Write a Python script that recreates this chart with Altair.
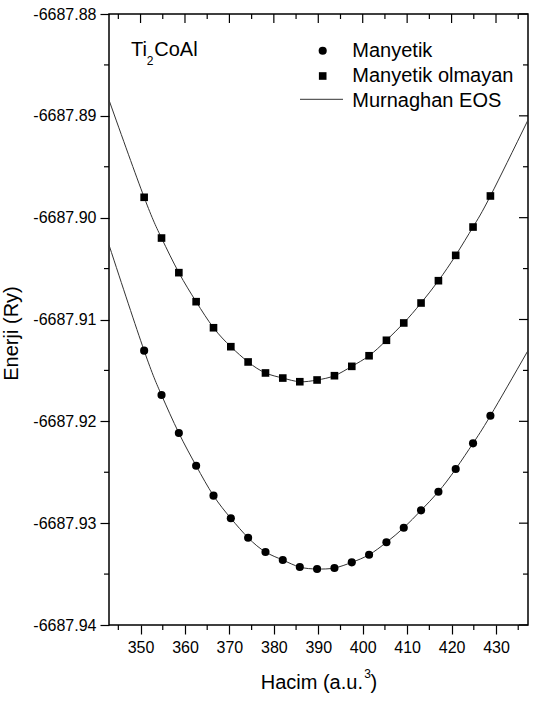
import altair as alt
import pandas as pd

FONT = "Liberation Sans"

# Cell volumes (a.u.^3) of the computed points
volume = [350.81, 354.72, 358.62, 362.51, 366.42, 370.32, 374.21, 378.12, 382.01, 385.84,
          389.73, 393.64, 397.54, 401.43, 405.34, 409.24, 413.13, 417.04, 420.93, 424.83, 428.74]

# Total energies (Ry)
e_magnetic = [-6687.91306, -6687.91742, -6687.92115, -6687.92436, -6687.92730, -6687.92952,
              -6687.93143, -6687.93283, -6687.93362, -6687.93431, -6687.93450, -6687.93440,
              -6687.93385, -6687.93310, -6687.93188, -6687.93045, -6687.92874, -6687.92691,
              -6687.92468, -6687.92216, -6687.91945]
e_nonmagnetic = [-6687.89800, -6687.90200, -6687.90540, -6687.90825, -6687.91081, -6687.91267,
                 -6687.91417, -6687.91525, -6687.91575, -6687.91611, -6687.91594, -6687.91552,
                 -6687.91460, -6687.91356, -6687.91204, -6687.91034, -6687.90838, -6687.90619,
                 -6687.90370, -6687.90092, -6687.89787]

# Murnaghan EOS fit values at the ends of the volume range
fit_edge_volume = [342.9, 437.2]
fit_edge_magnetic = [-6687.90268, -6687.91305]
fit_edge_nonmagnetic = [-6687.88845, -6687.89041]

phases = ["Manyetik", "Manyetik olmayan"]

x_major = [350, 360, 370, 380, 390, 400, 410, 420, 430]
x_minor = [345, 355, 365, 375, 385, 395, 405, 415, 425, 435]
y_major = [-6687.94, -6687.93, -6687.92, -6687.91, -6687.90, -6687.89, -6687.88]
y_minor = [-6687.935, -6687.925, -6687.915, -6687.905, -6687.895, -6687.885]

W, H = 419, 611

points = pd.DataFrame({
    "V": volume * 2,
    "E": e_magnetic + e_nonmagnetic,
    "phase": [phases[0]] * len(volume) + [phases[1]] * len(volume),
})

curve = pd.DataFrame({
    "V": [fit_edge_volume[0]] + volume + [fit_edge_volume[1]]
         + [fit_edge_volume[0]] + volume + [fit_edge_volume[1]],
    "E": [fit_edge_magnetic[0]] + e_magnetic + [fit_edge_magnetic[1]]
         + [fit_edge_nonmagnetic[0]] + e_nonmagnetic + [fit_edge_nonmagnetic[1]],
    "phase": [phases[0]] * (len(volume) + 2) + [phases[1]] * (len(volume) + 2),
})

xs = alt.Scale(domain=[fit_edge_volume[0], fit_edge_volume[1]], nice=False, zero=False)
ys = alt.Scale(domain=[y_major[0], y_major[-1]], nice=False, zero=False)

x_axis = alt.Axis(values=x_major, format="d", tickSize=9, tickWidth=1.2, tickColor="black",
                  labelFont=FONT, labelFontSize=16, labelColor="black", labelPadding=5,
                  domain=False, grid=False, title=None)
y_axis = alt.Axis(values=y_major,
                  labelExpr="replace(format(datum.value, '.2f'), '\u2212', '-')",
                  tickSize=9, tickWidth=1.2, tickColor="black",
                  labelFont=FONT, labelFontSize=16, labelColor="black", labelPadding=4,
                  domain=False, grid=False,
                  title="Enerji (Ry)", titleFont=FONT, titleFontSize=20,
                  titleFontWeight="normal", titleColor="black",
                  titleAngle=270, titleAlign="center", titleBaseline="alphabetic",
                  titleX=-92, titleY=319)

fit_line = alt.Chart(curve).mark_line(
    color="#333333", strokeWidth=1, interpolate="natural", clip=True
).encode(
    x=alt.X("V:Q", scale=xs, axis=x_axis),
    y=alt.Y("E:Q", scale=ys, axis=y_axis),
    detail="phase:N",
)

dots = alt.Chart(points).mark_point(filled=True, color="black", opacity=1).encode(
    x=alt.X("V:Q", scale=xs),
    y=alt.Y("E:Q", scale=ys),
    shape=alt.Shape("phase:N", scale=alt.Scale(domain=phases, range=["circle", "square"]),
                    legend=None),
    size=alt.Size("phase:N", scale=alt.Scale(domain=phases, range=[66, 58]), legend=None),
)

# Extra ticks: minor ticks outside, mirrored ticks inside on top and right
def vrule(values, y0, y1):
    return alt.Chart(pd.DataFrame({"v": values})).mark_rule(
        color="black", strokeWidth=1.2
    ).encode(x=alt.X("v:Q", scale=xs), y=alt.value(y0), y2=alt.value(y1))

def hrule(values, x0, x1):
    return alt.Chart(pd.DataFrame({"v": values})).mark_rule(
        color="black", strokeWidth=1.2
    ).encode(y=alt.Y("v:Q", scale=ys), x=alt.value(x0), x2=alt.value(x1))

ticks = [
    vrule(x_minor, H, H + 5),
    vrule(x_major, 0, 9),
    vrule(x_minor, 0, 5),
    hrule(y_minor, -5, 0),
    hrule(y_major, W, W - 9),
    hrule(y_minor, W, W - 5),
]

one = pd.DataFrame({"k": [0]})

def label(text, x, y, size=20):
    return alt.Chart(one).mark_text(
        font=FONT, fontSize=size, align="left", baseline="alphabetic", color="black"
    ).encode(x=alt.value(x), y=alt.value(y), text=alt.value(text))

texts = [
    # compound name with subscript
    label("Ti", 22, 42),
    label("2", 37.7, 51, 12),
    label("CoAl", 45.3, 42),
    # x-axis title with superscript
    label("Hacim (a.u.", 151.7, 675.3),
    label("3", 255.3, 664.3, 12),
    label(")", 261.5, 675.3),
    # legend entries
    label("Manyetik", 243.3, 43.3),
    label("Manyetik olmayan", 243.3, 68.3),
    label("Murnaghan EOS", 243.3, 92.7),
]

legend_marks = [
    alt.Chart(one).mark_point(shape="circle", filled=True, color="black", opacity=1, size=66)
    .encode(x=alt.value(213.7), y=alt.value(36.7)),
    alt.Chart(one).mark_point(shape="square", filled=True, color="black", opacity=1, size=58)
    .encode(x=alt.value(213.7), y=alt.value(62)),
    alt.Chart(one).mark_rule(color="#333333", strokeWidth=1)
    .encode(x=alt.value(191), x2=alt.value(234), y=alt.value(85.3)),
]

chart = alt.layer(fit_line, dots, *ticks, *texts, *legend_marks).properties(
    width=W, height=H,
    padding={"left": 109, "top": 14, "right": 6, "bottom": 83},
    autosize=alt.AutoSizeParams(type="none"),
    background="white",
).configure_view(stroke="black", strokeWidth=1.5)

chart.save("out.html", embed_options={"renderer": "svg", "actions": False})
